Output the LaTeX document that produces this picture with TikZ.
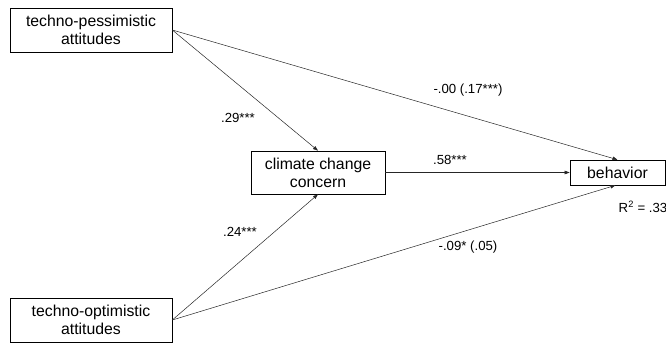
\documentclass[tikz,border=0pt]{standalone}
\usepackage{fontspec}
\setmainfont{Liberation Sans}
\usetikzlibrary{arrows.meta}

\begin{document}
\begin{tikzpicture}[x=1pt,y=1pt,
        varbox/.style={draw,line width=0.6pt,align=center,font=\fontsize{15.8}{18}\selectfont,inner sep=0pt},
        path/.style={line width=0.5pt,draw=black!85,-{Triangle[length=5pt,width=3.5pt]}},
        coef/.style={font=\fontsize{13.2}{15}\selectfont}]
    \useasboundingbox (0,0) rectangle (666,-344);
    \node[varbox,minimum width=162,minimum height=44] (pess) at (91,-30) {techno-pessimistic\\attitudes};
    \node[varbox,minimum width=162,minimum height=44] (opt) at (91,-320) {techno-optimistic\\attitudes};
    \node[varbox,minimum width=134,minimum height=43] (concern) at (318,-172.5) {climate change\\concern};
    \node[varbox,minimum width=95,minimum height=25] (behav) at (617.5,-172.5) {behavior};
    \draw[path] (pess.east) -- (concern.north);
    \draw[path] (pess.east) -- (behav.north);
    \draw[path] (concern.east) -- (behav.west);
    \draw[path] (opt.east) -- (concern.south);
    \draw[path] (opt.east) -- ([xshift=-2]behav.south);
    \node[coef] (c1) at (238,-118) {.29***};
    \node[coef] (c2) at (240,-232) {.24***};
    \node[coef] (c3) at (450,-160) {.58***};
    \node[coef] (c4) at (468,-90) {-.00 (.17***)};
    \node[coef] (c5) at (468,-247) {-.09* (.05)};
    \node[coef] (rsq) at (643,-207) {R\textsuperscript{2} = .33};
\end{tikzpicture}
\end{document}
